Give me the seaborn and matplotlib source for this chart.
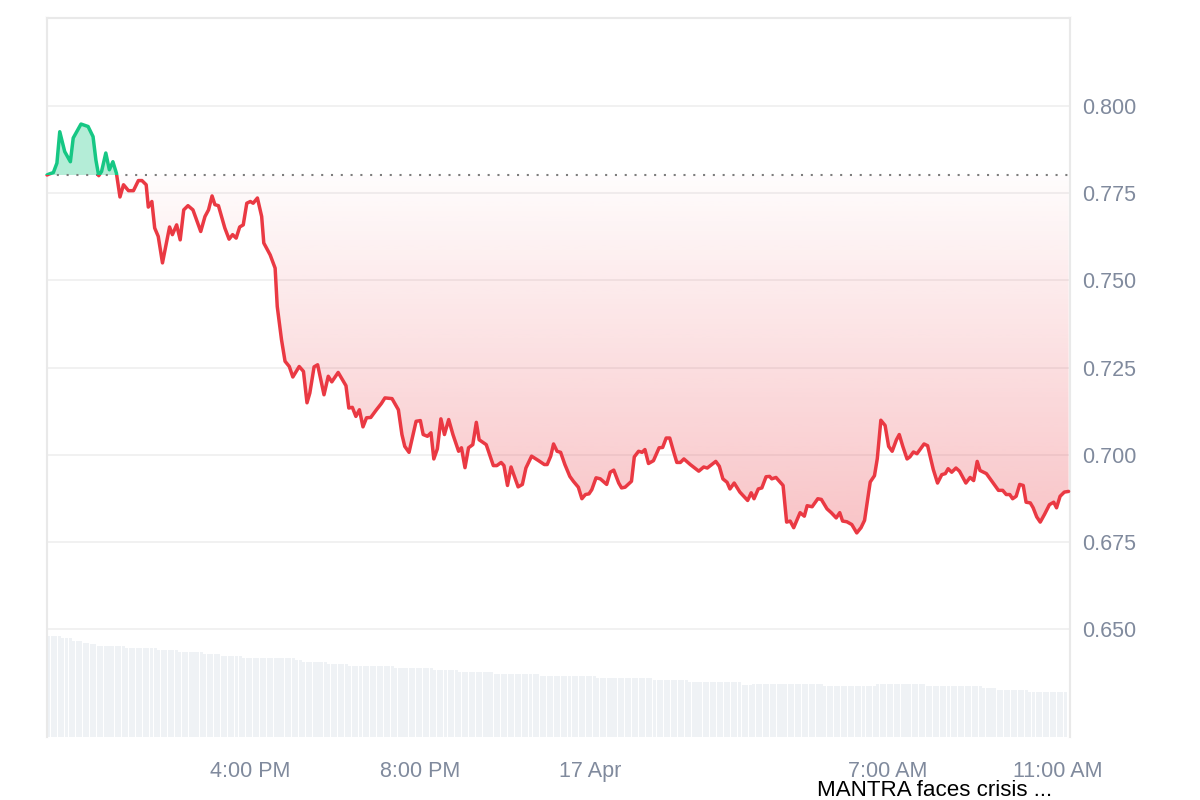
import numpy as np
import pandas as pd
import matplotlib
matplotlib.use("Agg")
import matplotlib.pyplot as plt
import matplotlib.dates as mdates
from matplotlib.patches import Rectangle
from matplotlib.path import Path
import seaborn as sns

# ---------------- data ----------------
start = pd.Timestamp("2025-04-16 11:13")
end = start + pd.Timedelta(minutes=1444)

minutes = [0, 2, 9, 14, 18, 25, 33, 37, 48, 58, 65, 69, 73, 77, 83, 88, 93, 98, 103, 108,
           115, 122, 129, 134, 140, 143, 148, 152, 157, 163, 173, 177, 183, 188, 193, 199, 206, 217, 223, 228,
           233, 237, 242, 251, 257, 262, 267, 272, 277, 282, 287, 291, 297, 303, 306, 315, 322, 325, 331, 336,
           342, 347, 356, 362, 367, 371, 377, 382, 391, 397, 402, 411, 422, 426, 431, 436, 441, 446, 451, 457,
           465, 472, 477, 487, 496, 501, 505, 511, 521, 527, 531, 537, 542, 546, 551, 556, 561, 567, 573, 581,
           585, 590, 595, 601, 606, 610, 620, 630, 635, 641, 645, 650, 655, 665, 671, 676, 684, 694, 702, 706,
           711, 715, 720, 725, 731, 738, 743, 750, 755, 760, 765, 769, 775, 781, 790, 795, 800, 807, 811, 816,
           825, 829, 835, 840, 844, 849, 856, 864, 869, 874, 879, 884, 889, 894, 899, 908, 920, 927, 932, 944,
           949, 954, 960, 964, 970, 978, 989, 994, 998, 1004, 1009, 1015, 1020, 1023, 1029, 1039, 1044, 1049, 1054, 1063,
           1069, 1073, 1080, 1088, 1093, 1101, 1107, 1114, 1119, 1123, 1129, 1136, 1143, 1149, 1154, 1162, 1168, 1172, 1177, 1183,
           1188, 1193, 1199, 1203, 1208, 1214, 1218, 1223, 1228, 1233, 1238, 1243, 1251, 1257, 1263, 1268, 1272, 1277, 1283, 1288,
           1297, 1303, 1308, 1313, 1317, 1326, 1332, 1338, 1343, 1349, 1354, 1359, 1363, 1368, 1373, 1378, 1382, 1388, 1392, 1397,
           1402, 1408, 1415, 1421, 1425, 1430, 1436, 1442]

prices = [0.7802, 0.7804, 0.7809, 0.7836, 0.7926, 0.7869, 0.7840, 0.7908, 0.7948, 0.7941, 0.7912, 0.7845, 0.7800, 0.7812, 0.7865, 0.7817, 0.7840, 0.7807, 0.7739, 0.7774,
          0.7757, 0.7757, 0.7786, 0.7786, 0.7774, 0.7710, 0.7726, 0.7650, 0.7626, 0.7550, 0.7653, 0.7631, 0.7659, 0.7616, 0.7702, 0.7714, 0.7702, 0.7640, 0.7683, 0.7702,
          0.7742, 0.7717, 0.7714, 0.7650, 0.7618, 0.7631, 0.7621, 0.7653, 0.7659, 0.7721, 0.7726, 0.7721, 0.7736, 0.7683, 0.7607, 0.7573, 0.7535, 0.7425, 0.7330, 0.7268,
          0.7253, 0.7223, 0.7253, 0.7239, 0.7149, 0.7177, 0.7252, 0.7258, 0.7172, 0.7225, 0.7209, 0.7236, 0.7198, 0.7134, 0.7136, 0.7110, 0.7129, 0.7080, 0.7106, 0.7107,
          0.7129, 0.7147, 0.7163, 0.7161, 0.7129, 0.7058, 0.7024, 0.7007, 0.7096, 0.7098, 0.7058, 0.7053, 0.7063, 0.6988, 0.7017, 0.7103, 0.7058, 0.7101, 0.7058, 0.7010,
          0.7020, 0.6963, 0.7020, 0.7029, 0.7093, 0.7043, 0.7029, 0.6969, 0.6969, 0.6978, 0.6969, 0.6912, 0.6965, 0.6908, 0.6915, 0.6962, 0.6996, 0.6983, 0.6972, 0.6972,
          0.6996, 0.7031, 0.7010, 0.7007, 0.6972, 0.6938, 0.6924, 0.6907, 0.6874, 0.6886, 0.6888, 0.6900, 0.6934, 0.6931, 0.6915, 0.6950, 0.6956, 0.6919, 0.6905, 0.6907,
          0.6924, 0.6994, 0.7010, 0.7007, 0.7015, 0.6975, 0.6983, 0.7020, 0.7021, 0.7048, 0.7048, 0.7012, 0.6978, 0.6978, 0.6988, 0.6972, 0.6953, 0.6965, 0.6962, 0.6981,
          0.6967, 0.6931, 0.6921, 0.6902, 0.6919, 0.6893, 0.6869, 0.6891, 0.6874, 0.6902, 0.6905, 0.6937, 0.6938, 0.6931, 0.6935, 0.6912, 0.6807, 0.6810, 0.6791, 0.6834,
          0.6824, 0.6854, 0.6851, 0.6874, 0.6872, 0.6845, 0.6834, 0.6819, 0.6834, 0.6810, 0.6808, 0.6800, 0.6776, 0.6791, 0.6812, 0.6922, 0.6940, 0.6989, 0.7099, 0.7084,
          0.7024, 0.7010, 0.7043, 0.7058, 0.7024, 0.6988, 0.6994, 0.7008, 0.7003, 0.7017, 0.7031, 0.7026, 0.6958, 0.6919, 0.6943, 0.6946, 0.6960, 0.6950, 0.6962, 0.6953,
          0.6919, 0.6935, 0.6926, 0.6981, 0.6955, 0.6946, 0.6929, 0.6912, 0.6898, 0.6898, 0.6886, 0.6886, 0.6874, 0.6881, 0.6915, 0.6912, 0.6864, 0.6862, 0.6848, 0.6822,
          0.6807, 0.6829, 0.6857, 0.6864, 0.6848, 0.6881, 0.6893, 0.6895]

open_price = 0.7802

# 5-minute volume bars, as levels and the number of consecutive bars at each level
vol_levels = [101, 98.7, 96.3, 94.3, 92.7, 90.7, 88.7, 86.7, 84.7, 82.7, 80.7, 78.7, 76.7, 74.7, 72.7, 70.7,
              68.7, 66.7, 64.7, 62.7, 61, 58.7, 56.7, 54.7, 52, 52.7, 50.7, 52.7, 50.7, 48.7, 46.7, 44.7]
vol_counts = [4, 3, 3, 2, 2, 8, 9, 6, 7, 5, 6, 15, 2, 7, 6, 13,
              11, 7, 10, 13, 16, 16, 10, 15, 3, 20, 15, 14, 16, 4, 9, 11]

x_ticks = ["2025-04-16 16:00", "2025-04-16 20:00", "2025-04-17 00:00", "2025-04-17 07:00", "2025-04-17 11:00"]
x_tick_labels = ["4:00 PM", "8:00 PM", "17 Apr", "7:00 AM", "11:00 AM"]
y_ticks = [0.650, 0.675, 0.700, 0.725, 0.750, 0.775, 0.800]
news_text = "MANTRA faces crisis ..."

RED = "#ea3943"
GREEN = "#16c784"
GRAY_TXT = "#808a9d"

# ---------------- build ----------------
df = pd.DataFrame({"time": start + pd.to_timedelta(minutes, unit="m"), "price": prices})
vol_df = pd.DataFrame({
    "time": start + pd.to_timedelta(np.arange(sum(vol_counts)) * 5 + 2.5, unit="m"),
    "volume": np.repeat(vol_levels, vol_counts),
})

sns.set_theme(style="white")
plt.rcParams["font.family"] = ["Liberation Sans", "DejaVu Sans"]

fig = plt.figure(figsize=(12, 8), dpi=100)
ax_vol = fig.add_axes([47 / 1200, 63 / 800, 1023 / 1200, 719 / 800])
ax = ax_vol.twinx()

# volume bars
ax_vol.bar(vol_df["time"], vol_df["volume"], width=pd.Timedelta(minutes=4.3),
           color="#eff2f5", linewidth=0)
ax_vol.set_ylim(0, 719)
ax_vol.set_yticks([])
ax_vol.grid(False)

# price lines (red below open, green above open)
sns.lineplot(data=df, x="time", y="price", ax=ax, color=RED, linewidth=2.5, zorder=5)
red_line = ax.lines[-1]
sns.lineplot(data=df, x="time", y="price", ax=ax, color=GREEN, linewidth=2.5, zorder=6)
green_line = ax.lines[-1]

x0 = mdates.date2num(start) - 1
red_line.set_clip_path(Rectangle((x0, 0), 3, open_price, transform=ax.transData))
green_line.set_clip_path(Rectangle((x0, open_price), 3, 1, transform=ax.transData))

# green fill above open
ax.fill_between(df["time"], df["price"], open_price, where=df["price"] >= open_price,
                interpolate=True, color=GREEN, alpha=0.32, linewidth=0, zorder=3)

# red gradient fill below open
coll = ax.fill_between(df["time"], df["price"], open_price, where=df["price"] <= open_price,
                       interpolate=True, color="none", linewidth=0, zorder=2)
clip = Path.make_compound_path(*coll.get_paths())
pmin = min(prices)
n = 256
grad = np.zeros((n, 1, 4))
rgb = matplotlib.colors.to_rgb(RED)
grad[:, 0, 0] = rgb[0]
grad[:, 0, 1] = rgb[1]
grad[:, 0, 2] = rgb[2]
grad[:, 0, 3] = np.linspace(0.30, 0.015, n)
im = ax.imshow(grad, extent=[mdates.date2num(start), mdates.date2num(end), pmin, open_price],
               origin="lower", aspect="auto", zorder=2, interpolation="bilinear")
im.set_clip_path(clip, transform=ax.transData)

# open price dotted line
ax.axhline(open_price, color="#7d7d7d", linewidth=1.5, linestyle=(0, (1, 3.7)), zorder=4)

# axes styling
ax.set_xlim(start, end)
ax.set_ylim(0.6191, 0.8252)
ax.set_yticks(y_ticks)
ax.set_yticklabels([f"{v:.3f}" for v in y_ticks])
ax.yaxis.grid(True, color="#efefef", linewidth=1.2)
ax.xaxis.grid(False)
ax.set_axisbelow(True)
ax.tick_params(axis="y", length=0, pad=8.5, labelsize=15.5, labelcolor=GRAY_TXT)
ax.set_xlabel("")
ax.set_ylabel("")

ax_vol.set_xticks([mdates.date2num(pd.Timestamp(t)) for t in x_ticks])
ax_vol.set_xticklabels(x_tick_labels)
ax_vol.tick_params(axis="x", length=0, pad=17, labelsize=15.5, labelcolor=GRAY_TXT)
ax_vol.set_xlabel("")

for a in (ax, ax_vol):
    for name, sp in a.spines.items():
        sp.set_color("#e9e9e9")
        sp.set_linewidth(1.5)
    a.spines["bottom"].set_visible(False)

fig.text(817 / 1200, 1 - 790 / 800, news_text, ha="left", va="center",
         fontsize=16.1, color="black")

fig.savefig("out.png", dpi=100)
